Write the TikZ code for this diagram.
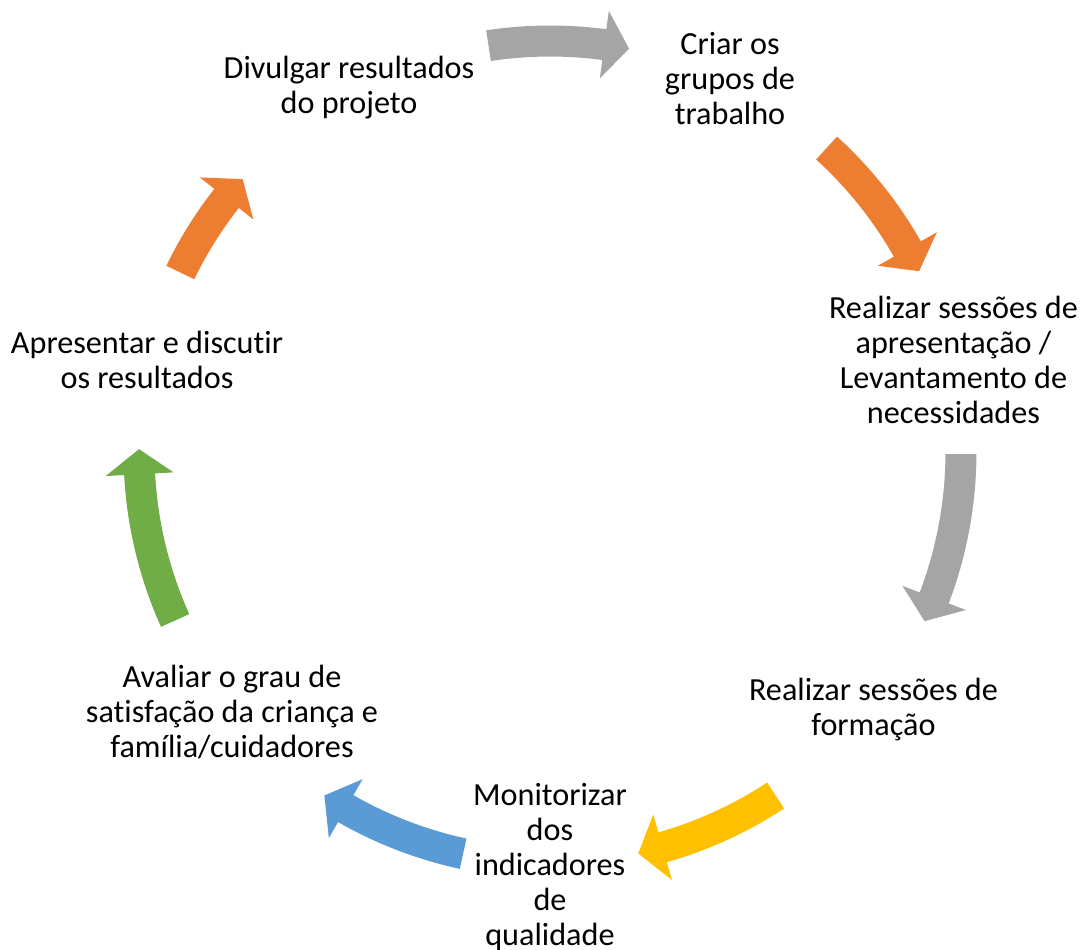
\documentclass[tikz,border=0pt]{standalone}
\usepackage{fontspec}
\setmainfont{Carlito}[Ligatures=NoCommon]
\definecolor{CycleGray}{HTML}{A5A5A5}
\definecolor{CycleOrange}{HTML}{ED7D31}
\definecolor{CycleYellow}{HTML}{FFC000}
\definecolor{CycleBlue}{HTML}{5B9BD5}
\definecolor{CycleGreen}{HTML}{70AD47}

\begin{document}
\begin{tikzpicture}[x=0.025cm,y=0.025cm,
  stagetext/.style={align=center,inner sep=0pt,font=\fontsize{22.9}{24.9}\selectfont}]
  \useasboundingbox (-550,-497) rectangle (537,452);
  % stages, clockwise from the top
  \node[stagetext] (criar) at (180,373.5) {Criar os\\grupos de\\trabalho};
  \node[stagetext] (apres) at (403.5,92) {Realizar sessões de\\apresentação /\\Levantamento de\\necessidades};
  \node[stagetext] (formacao) at (323.5,-258) {Realizar sessões de\\formação};
  \node[stagetext] (monit) at (0,-415) {Monitorizar\\dos\\indicadores\\de\\qualidade};
  \node[stagetext] (avaliar) at (-318,-260) {Avaliar o grau de\\satisfação da criança e\\família/cuidadores};
  \node[stagetext] (discutir) at (-403,92) {Apresentar e discutir\\os resultados};
  \node[stagetext] (divulgar) at (-201,364) {Divulgar resultados\\do projeto};
  % curved block arrows: start angle / tip angle / colour
  \foreach \s/\e/\c in {98.6/78.9/CycleGray, 47.7/26.1/CycleOrange, -0.3/-24.3/CycleGray,
      -56.7/-77.6/CycleYellow, -102.2/-123.3/CycleBlue, 204.2/179.6/CycleGreen, 154.1/138.4/CycleOrange}
    \fill[\c] (\s:426.5) arc[start angle=\s, end angle=\e+3.5, radius=426.5]
      -- (\e+3.5:445) -- (\e:411) -- (\e+3.5:377) -- (\e+3.5:395.5)
      arc[start angle=\e+3.5, end angle=\s, radius=395.5] -- cycle;
\end{tikzpicture}
\end{document}
